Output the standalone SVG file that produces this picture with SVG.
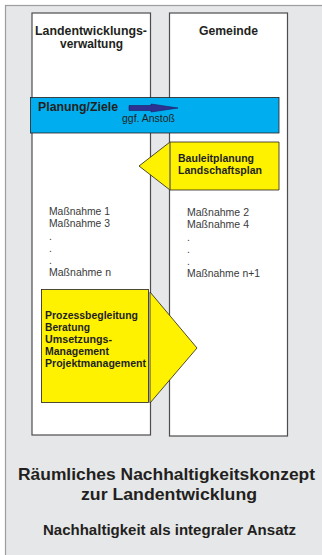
<svg xmlns="http://www.w3.org/2000/svg" width="322" height="555" viewBox="0 0 322 555">
<style>
.t{font-family:"Liberation Sans",Arial,sans-serif;fill:#231f20}
.b{font-weight:bold}
.col{fill:#fff;stroke:#4d4d4f;stroke-width:1.2}
.yel{fill:#fff200;stroke:#231f20;stroke-width:0.8}
.m{font-size:10.3px;fill:#3a3a3a}
.h{font-size:12.3px;font-weight:bold}
.y{font-size:10.5px;font-weight:bold}
</style>
<rect x="0" y="0" width="322" height="555" fill="#fff"/>
<g id="frame">
<rect x="5.5" y="5.5" width="330" height="560" fill="#e6e7e8" stroke="#9d9d9f" stroke-width="1.2"/>
</g>
<g id="col-left">
<rect class="col" x="32" y="13" width="118.5" height="422"/>
<text class="t h" x="35" y="35" textLength="112" lengthAdjust="spacingAndGlyphs">Landentwicklungs-</text>
<text class="t h" x="60" y="48" textLength="63" lengthAdjust="spacingAndGlyphs">verwaltung</text>
<text class="t m" x="49" y="215" textLength="61" lengthAdjust="spacingAndGlyphs">Maßnahme 1</text>
<text class="t m" x="49" y="227" textLength="61" lengthAdjust="spacingAndGlyphs">Maßnahme 3</text>
<text class="t m" x="49" y="240">.</text>
<text class="t m" x="49" y="252">.</text>
<text class="t m" x="49" y="264">.</text>
<text class="t m" x="49" y="276" textLength="62" lengthAdjust="spacingAndGlyphs">Maßnahme n</text>
</g>
<g id="col-right">
<rect class="col" x="169.5" y="13" width="118" height="423"/>
<text class="t h" x="199" y="35" textLength="59" lengthAdjust="spacingAndGlyphs">Gemeinde</text>
<text class="t m" x="187" y="216" textLength="62" lengthAdjust="spacingAndGlyphs">Maßnahme 2</text>
<text class="t m" x="187" y="228" textLength="62" lengthAdjust="spacingAndGlyphs">Maßnahme 4</text>
<text class="t m" x="187" y="241">.</text>
<text class="t m" x="187" y="253">.</text>
<text class="t m" x="187" y="265">.</text>
<text class="t m" x="187" y="277" textLength="73" lengthAdjust="spacingAndGlyphs">Maßnahme n+1</text>
</g>
<g id="planung">
<rect x="30.5" y="97.5" width="248.5" height="35.5" fill="#00aeef" stroke="#231f20" stroke-width="0.8"/>
<text class="t h" x="38" y="111" textLength="80" lengthAdjust="spacingAndGlyphs">Planung/Ziele</text>
<text class="t" x="122" y="122" font-size="10.3" fill="#3a3a3a" textLength="53" lengthAdjust="spacingAndGlyphs">ggf. Anstoß</text>
</g>
<g id="connectors">
<polygon points="129,105.5 151,105.5 151,104 178,108 151,112 151,110.5 129,110.5" fill="#2e3192" stroke="#1c1c5c" stroke-width="0.6"/>
</g>
<g id="bauleitplanung">
<polygon class="yel" points="139,166 170,142 279,142 279,190 170,190"/>
<line x1="170" y1="142" x2="170" y2="190" stroke="#4d4d4f" stroke-width="1.2"/>
<text class="t y" x="178" y="162" textLength="76" lengthAdjust="spacingAndGlyphs">Bauleitplanung</text>
<text class="t y" x="178" y="174" textLength="84" lengthAdjust="spacingAndGlyphs">Landschaftsplan</text>
</g>
<g id="prozess">
<polygon class="yel" points="150,292 197,348 150,403"/>
<rect class="yel" x="41.5" y="289.5" width="107" height="113"/>
<text class="t y" x="45" y="319" textLength="93" lengthAdjust="spacingAndGlyphs">Prozessbegleitung</text>
<text class="t y" x="45" y="331" textLength="45" lengthAdjust="spacingAndGlyphs">Beratung</text>
<text class="t y" x="45" y="343" textLength="67" lengthAdjust="spacingAndGlyphs">Umsetzungs-</text>
<text class="t y" x="45" y="355" textLength="64" lengthAdjust="spacingAndGlyphs">Management</text>
<text class="t y" x="45" y="367" textLength="101" lengthAdjust="spacingAndGlyphs">Projektmanagement</text>
</g>
<g id="title">
<text class="t b" x="18" y="480" font-size="17.3" textLength="297" lengthAdjust="spacingAndGlyphs">Räumliches Nachhaltigkeitskonzept</text>
<text class="t b" x="81" y="500" font-size="17.3" textLength="176" lengthAdjust="spacingAndGlyphs">zur Landentwicklung</text>
<text class="t b" x="43" y="535" font-size="14.3" textLength="253" lengthAdjust="spacingAndGlyphs">Nachhaltigkeit als integraler Ansatz</text>
</g>
</svg>
